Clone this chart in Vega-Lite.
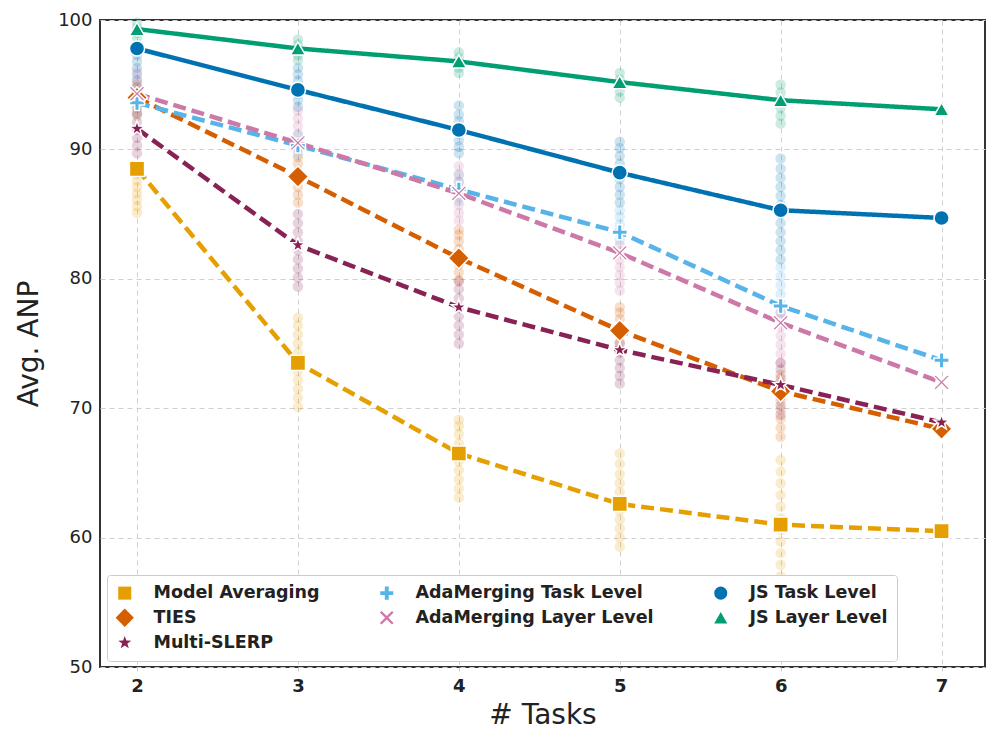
{
  "$schema": "https://vega.github.io/schema/vega-lite/v6.json",
  "width": 885,
  "height": 647,
  "autosize": "none",
  "padding": {"left": 100, "top": 20, "right": 11, "bottom": 77},
  "background": "white",
  "config": {
    "view": {"stroke": "#333333", "strokeWidth": 2},
    "font": "DejaVu Sans"
  },
  "datasets": {
    "means": [
      {"tasks": 2, "method": "Model Averaging", "value": 88.5},
      {"tasks": 3, "method": "Model Averaging", "value": 73.5},
      {"tasks": 4, "method": "Model Averaging", "value": 66.5},
      {"tasks": 5, "method": "Model Averaging", "value": 62.6},
      {"tasks": 6, "method": "Model Averaging", "value": 61.0},
      {"tasks": 7, "method": "Model Averaging", "value": 60.5},
      {"tasks": 2, "method": "TIES", "value": 94.0},
      {"tasks": 3, "method": "TIES", "value": 87.9},
      {"tasks": 4, "method": "TIES", "value": 81.6},
      {"tasks": 5, "method": "TIES", "value": 76.0},
      {"tasks": 6, "method": "TIES", "value": 71.3},
      {"tasks": 7, "method": "TIES", "value": 68.4},
      {"tasks": 2, "method": "Multi-SLERP", "value": 91.6},
      {"tasks": 3, "method": "Multi-SLERP", "value": 82.6},
      {"tasks": 4, "method": "Multi-SLERP", "value": 77.8},
      {"tasks": 5, "method": "Multi-SLERP", "value": 74.5},
      {"tasks": 6, "method": "Multi-SLERP", "value": 71.8},
      {"tasks": 7, "method": "Multi-SLERP", "value": 68.9},
      {"tasks": 2, "method": "AdaMerging Task Level", "value": 93.6},
      {"tasks": 3, "method": "AdaMerging Task Level", "value": 90.3},
      {"tasks": 4, "method": "AdaMerging Task Level", "value": 86.9},
      {"tasks": 5, "method": "AdaMerging Task Level", "value": 83.6},
      {"tasks": 6, "method": "AdaMerging Task Level", "value": 77.9},
      {"tasks": 7, "method": "AdaMerging Task Level", "value": 73.7},
      {"tasks": 2, "method": "AdaMerging Layer Level", "value": 94.3},
      {"tasks": 3, "method": "AdaMerging Layer Level", "value": 90.5},
      {"tasks": 4, "method": "AdaMerging Layer Level", "value": 86.6},
      {"tasks": 5, "method": "AdaMerging Layer Level", "value": 82.0},
      {"tasks": 6, "method": "AdaMerging Layer Level", "value": 76.6},
      {"tasks": 7, "method": "AdaMerging Layer Level", "value": 72.0},
      {"tasks": 2, "method": "JS Task Level", "value": 97.8},
      {"tasks": 3, "method": "JS Task Level", "value": 94.6},
      {"tasks": 4, "method": "JS Task Level", "value": 91.5},
      {"tasks": 5, "method": "JS Task Level", "value": 88.2},
      {"tasks": 6, "method": "JS Task Level", "value": 85.3},
      {"tasks": 7, "method": "JS Task Level", "value": 84.7},
      {"tasks": 2, "method": "JS Layer Level", "value": 99.3},
      {"tasks": 3, "method": "JS Layer Level", "value": 97.8},
      {"tasks": 4, "method": "JS Layer Level", "value": 96.8},
      {"tasks": 5, "method": "JS Layer Level", "value": 95.2},
      {"tasks": 6, "method": "JS Layer Level", "value": 93.8},
      {"tasks": 7, "method": "JS Layer Level", "value": 93.1}
    ],
    "dots": [
      {"tasks": 2, "method": "Model Averaging", "value": 85.1},
      {"tasks": 2, "method": "Model Averaging", "value": 85.6},
      {"tasks": 2, "method": "Model Averaging", "value": 86.1},
      {"tasks": 2, "method": "Model Averaging", "value": 86.6},
      {"tasks": 2, "method": "Model Averaging", "value": 87.1},
      {"tasks": 2, "method": "Model Averaging", "value": 87.6},
      {"tasks": 2, "method": "Model Averaging", "value": 88.1},
      {"tasks": 2, "method": "Model Averaging", "value": 88.6},
      {"tasks": 3, "method": "Model Averaging", "value": 70.1},
      {"tasks": 3, "method": "Model Averaging", "value": 70.8},
      {"tasks": 3, "method": "Model Averaging", "value": 71.5},
      {"tasks": 3, "method": "Model Averaging", "value": 72.2},
      {"tasks": 3, "method": "Model Averaging", "value": 72.9},
      {"tasks": 3, "method": "Model Averaging", "value": 73.6},
      {"tasks": 3, "method": "Model Averaging", "value": 74.3},
      {"tasks": 3, "method": "Model Averaging", "value": 75.0},
      {"tasks": 3, "method": "Model Averaging", "value": 75.7},
      {"tasks": 3, "method": "Model Averaging", "value": 76.4},
      {"tasks": 3, "method": "Model Averaging", "value": 77.0},
      {"tasks": 4, "method": "Model Averaging", "value": 63.1},
      {"tasks": 4, "method": "Model Averaging", "value": 63.8},
      {"tasks": 4, "method": "Model Averaging", "value": 64.5},
      {"tasks": 4, "method": "Model Averaging", "value": 65.2},
      {"tasks": 4, "method": "Model Averaging", "value": 65.9},
      {"tasks": 4, "method": "Model Averaging", "value": 66.6},
      {"tasks": 4, "method": "Model Averaging", "value": 67.3},
      {"tasks": 4, "method": "Model Averaging", "value": 68.0},
      {"tasks": 4, "method": "Model Averaging", "value": 68.6},
      {"tasks": 4, "method": "Model Averaging", "value": 69.1},
      {"tasks": 5, "method": "Model Averaging", "value": 59.3},
      {"tasks": 5, "method": "Model Averaging", "value": 60.0},
      {"tasks": 5, "method": "Model Averaging", "value": 60.7},
      {"tasks": 5, "method": "Model Averaging", "value": 61.4},
      {"tasks": 5, "method": "Model Averaging", "value": 62.1},
      {"tasks": 5, "method": "Model Averaging", "value": 62.8},
      {"tasks": 5, "method": "Model Averaging", "value": 63.5},
      {"tasks": 5, "method": "Model Averaging", "value": 64.2},
      {"tasks": 5, "method": "Model Averaging", "value": 64.9},
      {"tasks": 5, "method": "Model Averaging", "value": 65.7},
      {"tasks": 5, "method": "Model Averaging", "value": 66.5},
      {"tasks": 6, "method": "Model Averaging", "value": 57.0},
      {"tasks": 6, "method": "Model Averaging", "value": 57.9},
      {"tasks": 6, "method": "Model Averaging", "value": 58.8},
      {"tasks": 6, "method": "Model Averaging", "value": 59.7},
      {"tasks": 6, "method": "Model Averaging", "value": 60.6},
      {"tasks": 6, "method": "Model Averaging", "value": 61.5},
      {"tasks": 6, "method": "Model Averaging", "value": 62.4},
      {"tasks": 6, "method": "Model Averaging", "value": 63.3},
      {"tasks": 6, "method": "Model Averaging", "value": 64.2},
      {"tasks": 6, "method": "Model Averaging", "value": 65.1},
      {"tasks": 6, "method": "Model Averaging", "value": 66.0},
      {"tasks": 2, "method": "AdaMerging Task Level", "value": 92.8},
      {"tasks": 2, "method": "AdaMerging Task Level", "value": 93.3},
      {"tasks": 2, "method": "AdaMerging Task Level", "value": 93.8},
      {"tasks": 2, "method": "AdaMerging Task Level", "value": 94.3},
      {"tasks": 3, "method": "AdaMerging Task Level", "value": 89.6},
      {"tasks": 3, "method": "AdaMerging Task Level", "value": 90.1},
      {"tasks": 3, "method": "AdaMerging Task Level", "value": 90.6},
      {"tasks": 3, "method": "AdaMerging Task Level", "value": 91.1},
      {"tasks": 4, "method": "AdaMerging Task Level", "value": 86.0},
      {"tasks": 4, "method": "AdaMerging Task Level", "value": 86.5},
      {"tasks": 4, "method": "AdaMerging Task Level", "value": 87.0},
      {"tasks": 4, "method": "AdaMerging Task Level", "value": 87.5},
      {"tasks": 4, "method": "AdaMerging Task Level", "value": 88.0},
      {"tasks": 5, "method": "AdaMerging Task Level", "value": 83.0},
      {"tasks": 5, "method": "AdaMerging Task Level", "value": 83.6},
      {"tasks": 5, "method": "AdaMerging Task Level", "value": 84.2},
      {"tasks": 5, "method": "AdaMerging Task Level", "value": 84.8},
      {"tasks": 5, "method": "AdaMerging Task Level", "value": 85.3},
      {"tasks": 6, "method": "AdaMerging Task Level", "value": 77.4},
      {"tasks": 6, "method": "AdaMerging Task Level", "value": 78.1},
      {"tasks": 6, "method": "AdaMerging Task Level", "value": 78.8},
      {"tasks": 6, "method": "AdaMerging Task Level", "value": 79.5},
      {"tasks": 6, "method": "AdaMerging Task Level", "value": 80.2},
      {"tasks": 6, "method": "AdaMerging Task Level", "value": 80.9},
      {"tasks": 2, "method": "JS Task Level", "value": 94.8},
      {"tasks": 2, "method": "JS Task Level", "value": 95.3},
      {"tasks": 2, "method": "JS Task Level", "value": 95.8},
      {"tasks": 2, "method": "JS Task Level", "value": 96.3},
      {"tasks": 2, "method": "JS Task Level", "value": 96.8},
      {"tasks": 2, "method": "JS Task Level", "value": 97.3},
      {"tasks": 2, "method": "JS Task Level", "value": 97.7},
      {"tasks": 3, "method": "JS Task Level", "value": 93.3},
      {"tasks": 3, "method": "JS Task Level", "value": 93.8},
      {"tasks": 3, "method": "JS Task Level", "value": 94.3},
      {"tasks": 3, "method": "JS Task Level", "value": 94.8},
      {"tasks": 3, "method": "JS Task Level", "value": 95.3},
      {"tasks": 3, "method": "JS Task Level", "value": 95.8},
      {"tasks": 3, "method": "JS Task Level", "value": 96.3},
      {"tasks": 4, "method": "JS Task Level", "value": 89.7},
      {"tasks": 4, "method": "JS Task Level", "value": 90.2},
      {"tasks": 4, "method": "JS Task Level", "value": 90.7},
      {"tasks": 4, "method": "JS Task Level", "value": 91.2},
      {"tasks": 4, "method": "JS Task Level", "value": 91.7},
      {"tasks": 4, "method": "JS Task Level", "value": 92.2},
      {"tasks": 4, "method": "JS Task Level", "value": 92.7},
      {"tasks": 4, "method": "JS Task Level", "value": 93.4},
      {"tasks": 5, "method": "JS Task Level", "value": 85.9},
      {"tasks": 5, "method": "JS Task Level", "value": 86.5},
      {"tasks": 5, "method": "JS Task Level", "value": 87.1},
      {"tasks": 5, "method": "JS Task Level", "value": 87.7},
      {"tasks": 5, "method": "JS Task Level", "value": 88.3},
      {"tasks": 5, "method": "JS Task Level", "value": 88.9},
      {"tasks": 5, "method": "JS Task Level", "value": 89.5},
      {"tasks": 5, "method": "JS Task Level", "value": 90.1},
      {"tasks": 5, "method": "JS Task Level", "value": 90.6},
      {"tasks": 6, "method": "JS Task Level", "value": 81.5},
      {"tasks": 6, "method": "JS Task Level", "value": 82.2},
      {"tasks": 6, "method": "JS Task Level", "value": 82.9},
      {"tasks": 6, "method": "JS Task Level", "value": 83.6},
      {"tasks": 6, "method": "JS Task Level", "value": 84.3},
      {"tasks": 6, "method": "JS Task Level", "value": 85.0},
      {"tasks": 6, "method": "JS Task Level", "value": 85.7},
      {"tasks": 6, "method": "JS Task Level", "value": 86.4},
      {"tasks": 6, "method": "JS Task Level", "value": 87.1},
      {"tasks": 6, "method": "JS Task Level", "value": 87.8},
      {"tasks": 6, "method": "JS Task Level", "value": 88.5},
      {"tasks": 6, "method": "JS Task Level", "value": 89.3},
      {"tasks": 2, "method": "TIES", "value": 92.6},
      {"tasks": 2, "method": "TIES", "value": 93.2},
      {"tasks": 2, "method": "TIES", "value": 93.8},
      {"tasks": 2, "method": "TIES", "value": 94.4},
      {"tasks": 2, "method": "TIES", "value": 95.0},
      {"tasks": 3, "method": "TIES", "value": 85.9},
      {"tasks": 3, "method": "TIES", "value": 86.5},
      {"tasks": 3, "method": "TIES", "value": 87.1},
      {"tasks": 3, "method": "TIES", "value": 87.7},
      {"tasks": 3, "method": "TIES", "value": 88.3},
      {"tasks": 3, "method": "TIES", "value": 88.9},
      {"tasks": 3, "method": "TIES", "value": 89.4},
      {"tasks": 4, "method": "TIES", "value": 79.9},
      {"tasks": 4, "method": "TIES", "value": 80.5},
      {"tasks": 4, "method": "TIES", "value": 81.1},
      {"tasks": 4, "method": "TIES", "value": 81.7},
      {"tasks": 4, "method": "TIES", "value": 82.3},
      {"tasks": 4, "method": "TIES", "value": 82.9},
      {"tasks": 4, "method": "TIES", "value": 83.4},
      {"tasks": 4, "method": "TIES", "value": 83.8},
      {"tasks": 5, "method": "TIES", "value": 74.5},
      {"tasks": 5, "method": "TIES", "value": 75.1},
      {"tasks": 5, "method": "TIES", "value": 75.7},
      {"tasks": 5, "method": "TIES", "value": 76.3},
      {"tasks": 5, "method": "TIES", "value": 76.9},
      {"tasks": 5, "method": "TIES", "value": 77.4},
      {"tasks": 5, "method": "TIES", "value": 77.8},
      {"tasks": 6, "method": "TIES", "value": 67.8},
      {"tasks": 6, "method": "TIES", "value": 68.5},
      {"tasks": 6, "method": "TIES", "value": 69.2},
      {"tasks": 6, "method": "TIES", "value": 69.9},
      {"tasks": 6, "method": "TIES", "value": 70.6},
      {"tasks": 6, "method": "TIES", "value": 71.3},
      {"tasks": 6, "method": "TIES", "value": 72.0},
      {"tasks": 6, "method": "TIES", "value": 72.6},
      {"tasks": 2, "method": "AdaMerging Layer Level", "value": 93.6},
      {"tasks": 2, "method": "AdaMerging Layer Level", "value": 94.2},
      {"tasks": 2, "method": "AdaMerging Layer Level", "value": 94.8},
      {"tasks": 2, "method": "AdaMerging Layer Level", "value": 95.4},
      {"tasks": 2, "method": "AdaMerging Layer Level", "value": 96.0},
      {"tasks": 3, "method": "AdaMerging Layer Level", "value": 90.0},
      {"tasks": 3, "method": "AdaMerging Layer Level", "value": 90.6},
      {"tasks": 3, "method": "AdaMerging Layer Level", "value": 91.2},
      {"tasks": 3, "method": "AdaMerging Layer Level", "value": 91.8},
      {"tasks": 3, "method": "AdaMerging Layer Level", "value": 92.4},
      {"tasks": 3, "method": "AdaMerging Layer Level", "value": 93.0},
      {"tasks": 4, "method": "AdaMerging Layer Level", "value": 84.5},
      {"tasks": 4, "method": "AdaMerging Layer Level", "value": 85.1},
      {"tasks": 4, "method": "AdaMerging Layer Level", "value": 85.7},
      {"tasks": 4, "method": "AdaMerging Layer Level", "value": 86.3},
      {"tasks": 4, "method": "AdaMerging Layer Level", "value": 86.9},
      {"tasks": 4, "method": "AdaMerging Layer Level", "value": 87.5},
      {"tasks": 4, "method": "AdaMerging Layer Level", "value": 88.1},
      {"tasks": 4, "method": "AdaMerging Layer Level", "value": 88.7},
      {"tasks": 5, "method": "AdaMerging Layer Level", "value": 79.1},
      {"tasks": 5, "method": "AdaMerging Layer Level", "value": 79.7},
      {"tasks": 5, "method": "AdaMerging Layer Level", "value": 80.3},
      {"tasks": 5, "method": "AdaMerging Layer Level", "value": 80.9},
      {"tasks": 5, "method": "AdaMerging Layer Level", "value": 81.5},
      {"tasks": 5, "method": "AdaMerging Layer Level", "value": 82.1},
      {"tasks": 5, "method": "AdaMerging Layer Level", "value": 82.6},
      {"tasks": 6, "method": "AdaMerging Layer Level", "value": 73.5},
      {"tasks": 6, "method": "AdaMerging Layer Level", "value": 74.2},
      {"tasks": 6, "method": "AdaMerging Layer Level", "value": 74.9},
      {"tasks": 6, "method": "AdaMerging Layer Level", "value": 75.6},
      {"tasks": 6, "method": "AdaMerging Layer Level", "value": 76.3},
      {"tasks": 6, "method": "AdaMerging Layer Level", "value": 77.0},
      {"tasks": 6, "method": "AdaMerging Layer Level", "value": 77.4},
      {"tasks": 2, "method": "JS Layer Level", "value": 98.6},
      {"tasks": 2, "method": "JS Layer Level", "value": 99.0},
      {"tasks": 2, "method": "JS Layer Level", "value": 99.4},
      {"tasks": 2, "method": "JS Layer Level", "value": 99.8},
      {"tasks": 3, "method": "JS Layer Level", "value": 96.9},
      {"tasks": 3, "method": "JS Layer Level", "value": 97.3},
      {"tasks": 3, "method": "JS Layer Level", "value": 97.7},
      {"tasks": 3, "method": "JS Layer Level", "value": 98.1},
      {"tasks": 3, "method": "JS Layer Level", "value": 98.5},
      {"tasks": 4, "method": "JS Layer Level", "value": 95.9},
      {"tasks": 4, "method": "JS Layer Level", "value": 96.3},
      {"tasks": 4, "method": "JS Layer Level", "value": 96.7},
      {"tasks": 4, "method": "JS Layer Level", "value": 97.1},
      {"tasks": 4, "method": "JS Layer Level", "value": 97.5},
      {"tasks": 5, "method": "JS Layer Level", "value": 94.0},
      {"tasks": 5, "method": "JS Layer Level", "value": 94.5},
      {"tasks": 5, "method": "JS Layer Level", "value": 95.0},
      {"tasks": 5, "method": "JS Layer Level", "value": 95.4},
      {"tasks": 5, "method": "JS Layer Level", "value": 95.9},
      {"tasks": 6, "method": "JS Layer Level", "value": 92.0},
      {"tasks": 6, "method": "JS Layer Level", "value": 92.6},
      {"tasks": 6, "method": "JS Layer Level", "value": 93.2},
      {"tasks": 6, "method": "JS Layer Level", "value": 93.8},
      {"tasks": 6, "method": "JS Layer Level", "value": 94.4},
      {"tasks": 6, "method": "JS Layer Level", "value": 95.0},
      {"tasks": 2, "method": "Multi-SLERP", "value": 89.7},
      {"tasks": 2, "method": "Multi-SLERP", "value": 90.3},
      {"tasks": 2, "method": "Multi-SLERP", "value": 90.9},
      {"tasks": 2, "method": "Multi-SLERP", "value": 91.5},
      {"tasks": 2, "method": "Multi-SLERP", "value": 92.1},
      {"tasks": 2, "method": "Multi-SLERP", "value": 92.8},
      {"tasks": 3, "method": "Multi-SLERP", "value": 79.4},
      {"tasks": 3, "method": "Multi-SLERP", "value": 80.1},
      {"tasks": 3, "method": "Multi-SLERP", "value": 80.8},
      {"tasks": 3, "method": "Multi-SLERP", "value": 81.5},
      {"tasks": 3, "method": "Multi-SLERP", "value": 82.2},
      {"tasks": 3, "method": "Multi-SLERP", "value": 82.9},
      {"tasks": 3, "method": "Multi-SLERP", "value": 83.6},
      {"tasks": 3, "method": "Multi-SLERP", "value": 84.3},
      {"tasks": 3, "method": "Multi-SLERP", "value": 85.0},
      {"tasks": 4, "method": "Multi-SLERP", "value": 75.0},
      {"tasks": 4, "method": "Multi-SLERP", "value": 75.7},
      {"tasks": 4, "method": "Multi-SLERP", "value": 76.4},
      {"tasks": 4, "method": "Multi-SLERP", "value": 77.1},
      {"tasks": 4, "method": "Multi-SLERP", "value": 77.8},
      {"tasks": 4, "method": "Multi-SLERP", "value": 78.5},
      {"tasks": 4, "method": "Multi-SLERP", "value": 79.2},
      {"tasks": 4, "method": "Multi-SLERP", "value": 79.8},
      {"tasks": 5, "method": "Multi-SLERP", "value": 71.9},
      {"tasks": 5, "method": "Multi-SLERP", "value": 72.5},
      {"tasks": 5, "method": "Multi-SLERP", "value": 73.1},
      {"tasks": 5, "method": "Multi-SLERP", "value": 73.7},
      {"tasks": 5, "method": "Multi-SLERP", "value": 74.3},
      {"tasks": 5, "method": "Multi-SLERP", "value": 75.0},
      {"tasks": 6, "method": "Multi-SLERP", "value": 69.5},
      {"tasks": 6, "method": "Multi-SLERP", "value": 70.2},
      {"tasks": 6, "method": "Multi-SLERP", "value": 70.9},
      {"tasks": 6, "method": "Multi-SLERP", "value": 71.6},
      {"tasks": 6, "method": "Multi-SLERP", "value": 72.3},
      {"tasks": 6, "method": "Multi-SLERP", "value": 73.0},
      {"tasks": 6, "method": "Multi-SLERP", "value": 73.5}
    ]
  },
  "encoding": {
    "x": {
      "field": "tasks", "type": "quantitative",
      "scale": {"domain": [1.77, 7.27], "nice": false, "zero": false},
      "axis": {
        "title": "# Tasks", "values": [2, 3, 4, 5, 6, 7], "format": "d",
        "titleFontSize": 28, "titleFontWeight": "normal", "titleColor": "#222", "titlePadding": 6,
        "labelFontSize": 18, "labelFontWeight": "bold", "labelColor": "#222", "labelPadding": 6,
        "grid": true, "gridDash": [5, 4], "gridColor": "#d0d0d0", "gridWidth": 1,
        "domain": false, "ticks": true, "tickSize": 4, "tickColor": "#cccccc"
      }
    },
    "y": {
      "field": "value", "type": "quantitative",
      "scale": {"domain": [50, 100], "nice": false, "zero": false},
      "axis": {
        "title": "Avg. ANP", "values": [50, 60, 70, 80, 90, 100],
        "titleFontSize": 28, "titleFontWeight": "normal", "titleColor": "#222", "titlePadding": 14,
        "labelFontSize": 18, "labelColor": "#222", "labelPadding": 8,
        "grid": true, "gridDash": [5, 4], "gridColor": "#d0d0d0", "gridWidth": 1,
        "domain": false, "ticks": false
      }
    },
    "color": {
      "field": "method", "type": "nominal",
      "sort": null,
      "scale": {
        "domain": ["Model Averaging", "TIES", "JS Layer Level", "AdaMerging Task Level", "AdaMerging Layer Level", "Multi-SLERP", "JS Task Level"],
        "range": ["#E69F00", "#D55E00", "#009E73", "#56B4E9", "#CC79A7", "#882255", "#0072B2"]
      },
      "legend": {
        "title": null, "orient": "none", "legendX": 7, "legendY": 555,
        "columns": 3, "columnPadding": 58, "rowPadding": 6,
        "labelFont": "DejaVu Sans", "labelFontWeight": "bold", "labelFontSize": 17.5, "labelColor": "#222",
        "labelLimit": 0, "labelOffset": 20, "symbolSize": 170, "symbolStrokeWidth": 0, "symbolOpacity": 1,
        "fillColor": "white", "strokeColor": "#cccccc", "padding": 9, "cornerRadius": 3
      }
    }
  },
  "layer": [
    {
      "data": {"name": "dots"},
      "mark": {"type": "point", "filled": true, "shape": "circle", "size": 110, "opacity": 0.2}
    },
    {
      "data": {"name": "means"},
      "mark": {"type": "line", "strokeWidth": 4.5},
      "encoding": {
        "strokeDash": {
          "field": "method", "type": "nominal",
          "sort": null,
          "scale": {
            "domain": ["Model Averaging", "TIES", "JS Layer Level", "AdaMerging Task Level", "AdaMerging Layer Level", "Multi-SLERP", "JS Task Level"],
            "range": [[13, 6], [13, 6], [1, 0], [13, 6], [13, 6], [13, 6], [1, 0]]
          },
          "legend": null
        }
      }
    },
    {
      "data": {"name": "means"},
      "mark": {"type": "point", "filled": true, "opacity": 1, "stroke": "white", "strokeWidth": 1.5, "size": 230},
      "encoding": {
        "shape": {
          "field": "method", "type": "nominal",
          "sort": null,
          "scale": {
            "domain": ["Model Averaging", "TIES", "JS Layer Level", "AdaMerging Task Level", "AdaMerging Layer Level", "Multi-SLERP", "JS Task Level"],
            "range": [
              "square",
              "M0,-1.4L1.4,0L0,1.4L-1.4,0Z",
              "triangle-up",
              "M-1,-0.3H-0.3V-1H0.3V-0.3H1V0.3H0.3V1H-0.3V0.3H-1Z",
              "M-0.8,-1.05L0,-0.25L0.8,-1.05L1.05,-0.8L0.25,0L1.05,0.8L0.8,1.05L0,0.25L-0.8,1.05L-1.05,0.8L-0.25,0L-1.05,-0.8Z",
              "M0,-1.05L0.247,-0.34L1.0,-0.324L0.4,0.13L0.617,0.85L0,0.42L-0.617,0.85L-0.4,0.13L-1.0,-0.324L-0.247,-0.34Z",
              "circle"
            ]
          }
        }
      }
    }
  ]
}
